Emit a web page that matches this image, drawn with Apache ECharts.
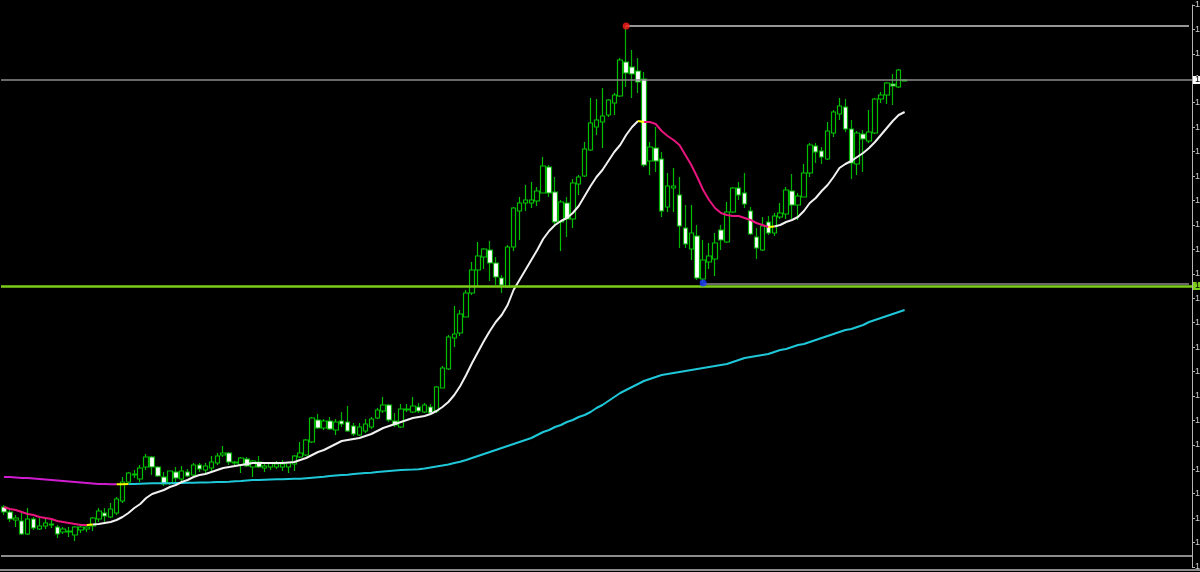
<!DOCTYPE html>
<html>
<head>
<meta charset="utf-8">
<script src="https://cdn.jsdelivr.net/npm/echarts@6/dist/echarts.min.js"></script>
<style>
html,body{margin:0;padding:0;background:#000;}
#chart{width:1200px;height:572px;}
</style>
</head>
<body>
<div id="chart"></div>
<script>
// Prices in points above the chart's lowest visible level (1 point = 0.0001)
const basePrice = 1.0850;
const slotCount = 201; // bars + empty chart shift on the right

const opens = [60,55,47,46,33,48,38,41,42,40,35,35,32,37,38,41,48,54,50,54,
66,85,92,88,100,110,100,90,84,95,88,95,92,102,97,99,104,112,114,104,
102,108,100,105,99,100,100,100,100,103,110,112,125,147,139,146,137,146,145,141,
132,136,140,149,156,162,146,140,157,155,160,155,160,156,179,198,229,234,250,274,
297,310,317,304,289,280,320,356,364,364,366,374,400,375,345,364,348,383,391,417,
440,445,452,464,471,505,500,496,488,406,419,408,360,379,372,339,318,331,288,305,
308,337,325,355,379,374,356,330,317,345,334,350,353,376,362,370,394,421,416,408,
434,453,460,438,403,433,426,434,468,472,483,480,486];
const closes = [55,48,49,33,48,39,41,44,43,33,38,36,40,40,40,49,56,51,58,68,
85,94,93,99,110,100,91,83,96,89,96,91,102,98,101,105,111,114,105,105,
109,101,106,100,101,104,103,103,104,111,114,127,149,139,146,138,145,143,136,133,
140,143,148,157,162,147,142,158,158,161,156,162,154,180,199,230,233,253,274,297,
311,318,304,290,282,320,359,364,367,367,376,401,374,345,365,348,384,390,418,444,
447,451,467,472,507,494,493,485,402,420,406,356,381,381,341,323,334,289,307,311,
324,327,355,379,372,363,333,319,341,334,351,354,377,362,371,394,422,415,410,436,
455,461,438,404,434,428,435,468,472,484,481,497,487];
const lows = [52,45,40,32,32,37,37,38,39,29,33,30,26,34,35,36,45,45,49,52,
64,84,89,85,97,92,90,81,82,85,85,90,91,95,94,96,102,110,102,102,
94,100,90,99,95,97,98,96,94,96,109,111,124,138,137,137,132,140,135,131,
131,134,138,148,154,145,140,139,155,154,154,154,153,154,179,197,220,231,250,272,
280,298,286,282,274,279,316,327,356,359,361,374,370,342,316,330,339,372,390,416,
432,419,450,452,470,480,469,474,400,392,395,350,355,355,319,319,307,287,284,298,
291,317,324,354,367,359,332,308,316,332,331,348,348,348,347,370,390,404,403,407,
430,447,435,388,392,395,424,433,464,463,462,479,486];
const highs = [62,57,52,54,59,50,50,49,48,42,40,40,41,43,43,50,59,59,64,70,
90,95,97,102,113,111,101,95,96,100,101,98,104,104,104,111,114,121,115,106,
110,110,107,111,104,105,106,107,105,112,125,128,150,153,148,150,148,155,161,144,
144,148,150,159,170,163,154,163,163,170,164,164,163,181,201,232,261,257,277,305,
325,319,326,310,292,322,360,370,382,385,380,410,402,390,367,370,388,392,425,469,
468,479,468,474,509,541,517,509,495,425,440,415,394,399,390,362,362,342,327,324,
334,342,365,380,385,394,360,339,350,351,354,364,380,393,374,403,424,424,420,445,
457,469,468,447,436,437,457,469,475,485,493,498,487];

// Fast moving average (white rising / pink falling)
const fastMA = [60,58,57,55,53,52,50,49,48,46,45,44,43,42,42,42.5,43,44,45,47,
50,54,59,63,69,73,75,77,80,82,85,87,90,92,93,95,97,99,100,101,
102,103,104,104,104,104,104,104,104.5,105,107,109,112,115,117,120,123,126,127,128,
129,131,133,136,139,141,143,145,147,149,150,151,153,156,160,165,172,181,192,204,
215,226,236,245,252,262,277,287,297,307,317,328,336,342,346,349,354,361,371,381,
390,397,406,415,422,432,440,446,445,445,443,436,431,427,422,412,402,390,377,367,
359,354,352,351,351,349,347,344,342,340,340.5,342,345,347,350,356,364,369,376,382,
390,399,403,406,410,414,419,425,432,439,446,452,455];
// Slow moving average (cyan rising / magenta falling)
const slowMA = [90,90,89.5,89,89,88.5,88,87.5,87,86.5,86,85.5,85,84.5,84,83.5,83,83,82.7,82.7,
82.7,83,83,83.3,83.5,83.7,83.7,83.7,83.8,84,84,84.2,84.3,84.5,84.5,84.7,85,85,85.3,85.7,
86,86.5,87,87,87.3,87.5,87.7,87.8,88,88.2,88.3,88.8,89.3,89.8,90.3,91,91.5,92,92.3,93,
93.5,94,94.3,95,95.5,96,96.5,97,97.3,97.5,97.8,98.5,99.5,100.5,101.5,102.5,104,105.3,107,109,
111,113,115,117,119,121,123,125,127,129,132,135,137,140,142,145,147,150,152,155,
159,162,166,170,174,177,180,183,186,188,190,192,193,194,195,196,197,198,199,200,
201,202,203,205,207,209,210,211,212,213,215,217,218,220,222,223,225,227,229,231,
233,235,237,238,240,242,245,247,249,251,253,255,257];

// Colour segments (bar index ranges)
const fastPinkRanges = [[0,14],[108,129]];
const fastYellowRanges = [[14,15],[107,108],[129,130]];
const fastWhiteRanges = [[15,107],[130,152]];
const slowMagentaRanges = [[0,19]];
const slowYellowRanges = [[19,21]];
const slowCyanRanges = [[21,152]];

// Marked levels
const highBar = 105, highLevel = 541;
const lowBar = 118, lowLevel = 284, lowLineLevel = 283;
const bidLevel = 487;
const supportLevel = 281;
const bottomLevel = 11;

const categories = Array.from({length: slotCount}, (_, i) => String(i));
const candles = opens.map((o, i) => [o, closes[i], lows[i], highs[i]]);
function seg(arr, ranges) {
  return arr.map((v, i) => ranges.some(([a, b]) => i >= a && i <= b) ? v : '-');
}
function lineSeries(data, color, w) {
  return {type: 'line', data: data, symbol: 'none', smooth: false, silent: true,
    connectNulls: false, lineStyle: {color: color, width: w}, z: 3};
}
const fmt = v => (basePrice + v * 0.0001).toFixed(5);
const tickInterval = 562 / 23;

const chart = echarts.init(document.getElementById('chart'), null, {renderer: 'canvas'});
chart.setOption({
  backgroundColor: '#000000',
  animation: false,
  grid: {left: 1, right: 8, top: 5, bottom: 5, containLabel: false, outerBoundsMode: 'none'},
  xAxis: {type: 'category', data: categories, boundaryGap: true, show: false},
  yAxis: {
    type: 'value', position: 'right', min: 0, max: tickInterval * 23, interval: tickInterval,
    scale: false,
    axisLine: {show: true, lineStyle: {color: '#b4b4b4', width: 1}},
    axisTick: {show: true, length: 3, lineStyle: {color: '#b4b4b4'}},
    axisLabel: {show: true, margin: 3, fontSize: 9, color: '#d0d0d0', fontFamily: 'Liberation Sans',
      formatter: fmt, hideOverlap: false},
    splitLine: {show: false}
  },
  series: [
    {
      type: 'candlestick', data: candles, barWidth: 5, silent: true, z: 2,
      itemStyle: {color: '#000000', color0: '#ffffff', borderColor: '#00c000', borderColor0: '#00b000', borderWidth: 1.2},
      markLine: {
        silent: true, symbol: 'none', animation: false,
        data: [
          {yAxis: bidLevel, lineStyle: {color: '#8c8c8c', width: 1.5, type: 'solid'},
            label: {show: true, position: 'end', distance: 1, formatter: fmt(bidLevel), fontSize: 9,
              color: '#000', backgroundColor: '#ffffff', padding: [0, 2], lineHeight: 8}},
          {yAxis: supportLevel, lineStyle: {color: '#7ccc1a', width: 2.5, type: 'solid'},
            label: {show: true, position: 'end', distance: 1, formatter: fmt(supportLevel), fontSize: 9,
              color: '#000', backgroundColor: '#7ccc1a', padding: [0, 2], lineHeight: 8}},
          {yAxis: bottomLevel, lineStyle: {color: '#8c8c8c', width: 2, type: 'solid'}, label: {show: false}},
          [{coord: [String(highBar), highLevel], lineStyle: {color: '#c8c8c8', width: 1.5, type: 'solid'}, label: {show: false}},
           {coord: [String(slotCount - 1), highLevel]}],
          [{coord: [String(lowBar), lowLineLevel], lineStyle: {color: '#8c8c8c', width: 1.5, type: 'solid'}, label: {show: false}},
           {coord: [String(slotCount - 1), lowLineLevel]}]
        ]
      }
    },
    lineSeries(seg(slowMA, slowMagentaRanges), '#d01cd0', 2),
    lineSeries(seg(slowMA, slowCyanRanges), '#1fc8d8', 2),
    lineSeries(seg(slowMA, slowYellowRanges), '#ffff00', 2),
    lineSeries(seg(fastMA, fastPinkRanges), '#e8157e', 2),
    lineSeries(seg(fastMA, fastWhiteRanges), '#f0f0f0', 2),
    lineSeries(seg(fastMA, fastYellowRanges), '#ffff00', 2),
    {type: 'scatter', silent: true, z: 5, symbolSize: 7,
      data: [{value: [String(highBar), highLevel], itemStyle: {color: '#ff1a1a'}},
             {value: [String(lowBar), lowLevel], itemStyle: {color: '#1a3cff'}}]}
  ],
  graphic: [
    {type: 'rect', left: 0, top: 569, shape: {width: 1200, height: 2}, style: {fill: '#8c8c8c'}, silent: true}
  ]
});
</script>
</body>
</html>
